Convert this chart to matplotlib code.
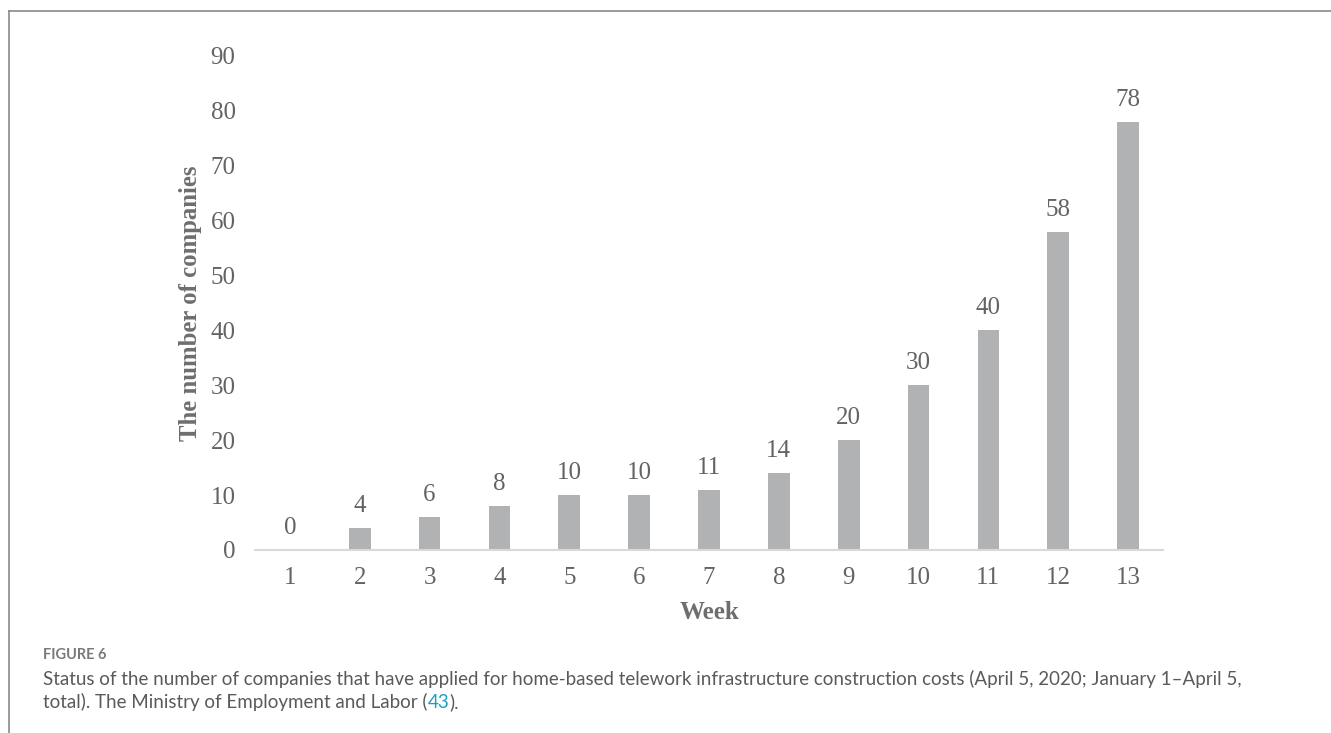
import matplotlib
matplotlib.use("Agg")
import matplotlib.pyplot as plt
from matplotlib.lines import Line2D

weeks = list(range(1, 14))
companies = [0, 4, 6, 8, 10, 10, 11, 14, 20, 30, 40, 58, 78]
yticks = list(range(0, 100, 10))

caption_head = "FIGURE 6"
caption_line1 = ("Status of the number of companies that have applied for home-based telework "
                 "infrastructure construction costs (April 5, 2020; January 1\u2013April 5,")
caption_line2 = ["total). The Ministry of Employment and Labor (", "43", ")."]

W, H = 1331, 733
text_grey = "#6e6e6e"
tick_grey = "#636363"
serif = "Liberation Serif"
sans = "Lato"

fig = plt.figure(figsize=(W / 100, H / 100), dpi=100)
ax = fig.add_axes([255 / W, 1 - 550 / H, (1163 - 255) / W, (550 - 56) / H])

ax.bar(weeks, companies, width=0.31, color="#b1b2b4", zorder=2)
for x, v in zip(weeks, companies):
    ax.annotate(str(v), (x, v), xytext=(0, 8), textcoords="offset points",
                ha="center", va="bottom", fontsize=18, family=serif, color=tick_grey)

ax.set_xlim(0.5, 13.5)
ax.set_ylim(0, 90)
ax.set_xticks(weeks)
ax.set_yticks(yticks)
for s in ["top", "right", "left"]:
    ax.spines[s].set_visible(False)
ax.spines["bottom"].set_color("#d9d9d9")
ax.spines["bottom"].set_linewidth(1.5)
ax.tick_params(length=0, labelsize=18, colors=tick_grey)
ax.tick_params(axis="x", pad=12)
ax.tick_params(axis="y", pad=14)
for lab in ax.get_xticklabels() + ax.get_yticklabels():
    lab.set_family(serif)

ax.set_xlabel("Week", family=serif, fontsize=18, fontweight="bold", color=text_grey, labelpad=9)
ax.set_ylabel("The number of companies", family=serif, fontsize=17.8, fontweight="bold",
              color=text_grey, labelpad=6)

# page frame: top rule and left rule
fig.add_artist(Line2D([9 / W, 1], [1 - 11 / H, 1 - 11 / H], color="#8a8a8a", lw=1.2))
fig.add_artist(Line2D([9 / W, 9 / W], [0, 1 - 11 / H], color="#8a8a8a", lw=1.2))

fig.text(43 / W, 1 - 655 / H, caption_head, family=sans, fontsize=10.5, fontweight="bold",
         color="#7a7a7a", va="center")
fig.text(43 / W, 1 - 679 / H, caption_line1, family=sans, fontsize=13.5, color="#5a5a5a",
         va="center")

renderer = fig.canvas.get_renderer()
x0 = 43 / W
colors = ["#5a5a5a", "#1a9ec2", "#5a5a5a"]
for piece, c in zip(caption_line2, colors):
    t = fig.text(x0, 1 - 702 / H, piece, family=sans, fontsize=13.5, color=c, va="center")
    bb = t.get_window_extent(renderer)
    x0 = bb.x1 / W

fig.savefig("out.png", dpi=100)
